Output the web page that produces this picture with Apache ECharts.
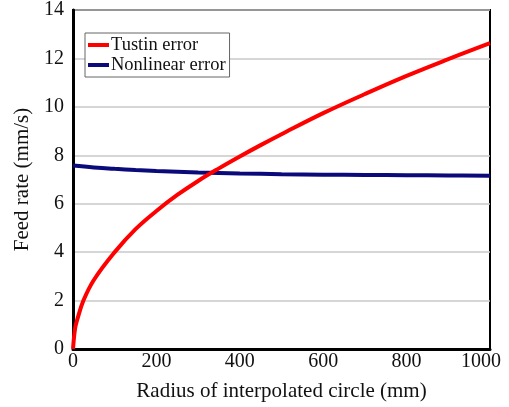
<!DOCTYPE html>
<html>
<head>
<meta charset="utf-8">
<script src="https://cdn.jsdelivr.net/npm/echarts@6/dist/echarts.min.js"></script>
<style>
  html, body { margin: 0; padding: 0; background: #fff; }
  #chart { width: 509px; height: 407px; }
</style>
</head>
<body>
<div id="chart"></div>
<script>
// Radius of the interpolated circle (mm)
const tustinRadius = [0, 5, 10, 25, 50, 100, 150, 200, 250, 300, 350, 400, 450, 500, 600, 700, 800, 900, 1000];
// Feed rate of the Tustin error (mm/s)
const tustinRate = [0, 0.85, 1.2, 2.0, 2.85, 4.0, 4.95, 5.7, 6.36, 6.94, 7.46, 7.95, 8.42, 8.87, 9.74, 10.53, 11.28, 11.97, 12.63];

const nonlinearRadius = [0, 50, 100, 150, 200, 300, 400, 500, 600, 700, 800, 900, 1000];
// Feed rate of the nonlinear error (mm/s)
const nonlinearRate = [7.58, 7.5, 7.44, 7.39, 7.35, 7.29, 7.25, 7.22, 7.2, 7.19, 7.18, 7.17, 7.16];

const seriesNames = ['Tustin error', 'Nonlinear error'];
const xTicks = [0, 200, 400, 600, 800, 1000];
const yTicks = [0, 2, 4, 6, 8, 10, 12, 14];

const font = '"Liberation Serif", "Times New Roman", serif';
const pairs = (xs, ys) => xs.map((x, i) => [x, ys[i]]);

const chart = echarts.init(document.getElementById('chart'));
chart.setOption({
  animation: false,
  backgroundColor: '#ffffff',
  grid: {
    left: 73, right: 19, top: 5, bottom: 58,
    show: true, borderColor: '#000', borderWidth: 2, backgroundColor: '#fff'
  },
  legend: {
    orient: 'vertical',
    left: 85, top: 33,
    padding: [2, 4, 2, 3],
    itemGap: 0,
    itemWidth: 21, itemHeight: 4,
    borderColor: '#666', borderWidth: 1,
    backgroundColor: '#fff',
    icon: 'rect',
    textStyle: { fontFamily: font, fontSize: 18.5, color: '#111', padding: [0, 0, 0, -3], lineHeight: 20 },
    data: seriesNames
  },
  xAxis: {
    type: 'value',
    min: xTicks[0], max: xTicks[xTicks.length - 1], interval: 200,
    name: 'Radius of interpolated circle (mm)',
    nameLocation: 'middle', nameGap: 32,
    nameTextStyle: { fontFamily: font, fontSize: 21, color: '#111' },
    axisLine: { lineStyle: { color: '#000', width: 3 } },
    axisTick: { show: false },
    splitLine: { show: false },
    axisLabel: {
      margin: 3,
      fontFamily: font, fontSize: 20, color: '#111',
      formatter: v => v === 1000 ? '{last|1000}' : String(v),
      rich: { last: { fontFamily: font, fontSize: 20, color: '#111', padding: [0, 18, 0, 0] } }
    }
  },
  yAxis: {
    type: 'value',
    min: yTicks[0], max: yTicks[yTicks.length - 1], interval: 2,
    name: 'Feed rate (mm/s)',
    nameLocation: 'middle', nameGap: 38,
    nameTextStyle: { fontFamily: font, fontSize: 21, color: '#111' },
    axisLine: { show: true, lineStyle: { color: '#000', width: 3 } },
    axisTick: { show: false },
    splitLine: { lineStyle: { color: '#c8c8c8', width: 1.5 } },
    axisLabel: { margin: 9, fontFamily: font, fontSize: 20, color: '#111' }
  },
  series: [
    {
      name: seriesNames[0], type: 'line', smooth: 0.4, symbol: 'none',
      color: '#ff0000',
      lineStyle: { color: '#ff0000', width: 4 },
      data: pairs(tustinRadius, tustinRate), z: 3
    },
    {
      name: seriesNames[1], type: 'line', smooth: 0.4, symbol: 'none',
      color: '#0a0a7a',
      lineStyle: { color: '#0a0a7a', width: 4 },
      data: pairs(nonlinearRadius, nonlinearRate), z: 2
    }
  ]
});
</script>
</body>
</html>
